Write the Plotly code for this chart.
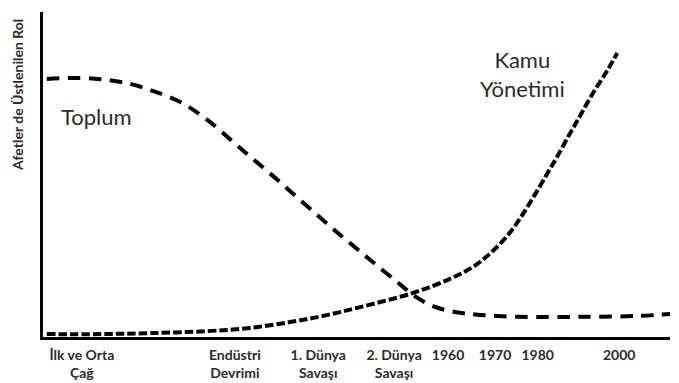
import plotly.graph_objects as go

# Time index (0-100 across the axis) and relative role of each actor (0-100)
toplum_x = [0.6, 5.9, 10.2, 13.9, 17.1, 21.9, 26.2, 31.4, 36.7, 42.1, 47.4, 52.2, 56.5, 59.3, 62.2, 65.7, 69.7, 76.1, 85.7, 95.2, 100]
toplum_y = [79.4, 79.7, 79.1, 77.9, 76.0, 72.3, 66.8, 58.2, 49.5, 40.3, 31.4, 23.7, 16.9, 12.6, 9.5, 7.7, 6.8, 6.2, 6.2, 6.5, 7.1]

kamu_x = [0.6, 9.1, 17.1, 26.2, 33.0, 39.4, 44.7, 50.6, 58.9, 64.9, 68.6, 71.3, 74.0, 76.1, 78.2, 80.4, 82.0, 84.1, 85.7, 87.7, 90.0, 91.6]
kamu_y = [0.9, 0.9, 1.2, 1.8, 2.8, 4.6, 6.5, 9.2, 13.5, 17.9, 21.6, 25.7, 31.0, 36.5, 43.0, 50.2, 55.5, 62.8, 68.2, 75.0, 82.0, 87.4]

tick_pos = [6.2, 30.6, 43.9, 56.0, 64.6, 72.1, 78.9, 91.9]
tick_text = ["İlk ve Orta<br>Çağ", "Endüstri<br>Devrimi", "1. Dünya<br>Savaşı", "2. Dünya<br>Savaşı",
             "1960", "1970", "1980", "2000"]

series_labels = ["Toplum", "Kamu<br>Yönetimi"]
label_pos = [(8.5, 68.0), (76.4, 81.0)]

y_title = "Afetler de Üstlenilen Rol"

FONT = "Lato"
TXT = "#2b2b2b"

fig = go.Figure()
fig.add_trace(go.Scatter(x=toplum_x, y=toplum_y, mode="lines", line_shape="spline",
                         line=dict(color="black", width=4, dash="12.5px,8.5px"), hoverinfo="skip"))
fig.add_trace(go.Scatter(x=kamu_x, y=kamu_y, mode="lines", line_shape="spline",
                         line=dict(color="black", width=4, dash="8.5px,3px"), hoverinfo="skip"))

for txt, (lx, ly) in zip(series_labels, label_pos):
    fig.add_annotation(x=lx, y=ly, text=txt, showarrow=False, xanchor="center", yanchor="middle",
                       font=dict(family=FONT, size=22, color=TXT))

fig.add_annotation(xref="paper", yref="paper", x=0, y=0.745, xshift=-25, xanchor="center", yanchor="middle",
                   text=y_title, textangle=-90, showarrow=False,
                   font=dict(family=FONT, size=14, color=TXT, weight="bold"))

fig.update_layout(
    width=671, height=375,
    margin=dict(l=35, r=9, t=4, b=46),
    paper_bgcolor="white", plot_bgcolor="white",
    showlegend=False,
)
fig.update_xaxes(range=[0, 100], showline=True, linecolor="black", linewidth=3, showgrid=False, zeroline=False,
                 tickmode="array", tickvals=tick_pos, ticktext=tick_text, ticks="", automargin=False,
                 tickfont=dict(family=FONT, size=14, color=TXT, weight="bold"), ticklabelstandoff=3)
fig.update_yaxes(range=[0, 100], showline=True, linecolor="black", linewidth=3, showgrid=False, zeroline=False,
                 showticklabels=False, ticks="", automargin=False)

fig.write_html("out.html")
